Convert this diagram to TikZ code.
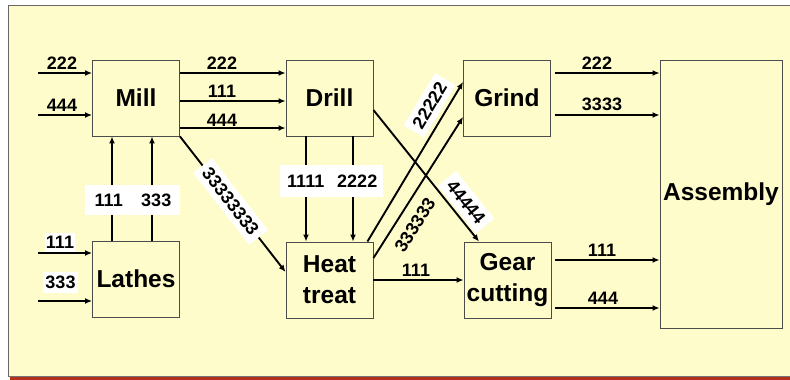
\documentclass[tikz,border=0pt]{standalone}
\usepackage{fontspec}
\setmainfont{Liberation Sans}
\usetikzlibrary{arrows.meta}
\definecolor{bgy}{HTML}{FFFCCB}
\definecolor{redbar}{HTML}{B3301C}
\begin{document}
\begin{tikzpicture}[x=1pt,y=-1pt,
  box/.style={draw=black!70, line width=0.9pt, fill=bgy, minimum width=87pt, minimum height=76pt, inner sep=0pt, align=center, font=\bfseries\fontsize{24.5}{31}\selectfont},
  arr/.style={line width=1.9pt, -{Latex[length=7pt,width=6pt]}},
  lbl/.style={font=\bfseries\fontsize{18}{20}\selectfont, inner sep=1pt},
  wlbl/.style={lbl, fill=white, inner sep=4pt},
  slbl/.style={lbl, fill=white, inner sep=5.5pt, sloped}]
\useasboundingbox (0,0) rectangle (790,380);
\fill[white] (0,0) rectangle (790,380);
\fill[bgy] (8,5) rectangle (790,376);
\draw[black!60, line width=1pt] (8,376) -- (8,5) -- (790,5);
\fill[redbar] (10,377) rectangle (790,380);
\draw[black!55, line width=1pt] (8,376) -- (790,376);

% boxes
\node[box] (mill) at (136,98) {Mill};
\node[box] (drill) at (329.5,98) {Drill};
\node[box] (grind) at (507,98) {Grind};
\node[box, minimum width=122pt, minimum height=268pt] (asm) at (721,194) {Assembly};
\node[box] (lathes) at (136,279) {Lathes};
\node[box] (heat) at (329.5,280) {Heat\\treat};
\node[box] (gear) at (507.5,280) {Gear\\cutting};

% free ends
\coordinate (i1) at (38,73);
\coordinate (i2) at (38,115);
\coordinate (i3) at (38,253);
\coordinate (i4) at (38,301);

% inputs to Mill
\draw[arr] (i1) -- (i1 -| mill.west);
\draw[arr] (i2) -- (i2 -| mill.west);
\node[lbl] (l1) at (62,63) {222};
\node[lbl] (l2) at (62,105) {444};

% inputs to Lathes
\draw[arr] (i3) -- (i3 -| lathes.west);
\draw[arr] (i4) -- (i4 -| lathes.west);
\node[wlbl, minimum width=30pt, minimum height=19pt, inner sep=0pt] (l3) at (60,242.5) {111};
\node[wlbl, minimum width=35pt, minimum height=21pt, inner sep=0pt] (l4) at (60.5,282.5) {333};

% Mill -> Drill
\draw[arr] ([yshift=25pt]mill.east) -- ([yshift=25pt]drill.west);
\draw[arr] ([yshift=-3pt]mill.east) -- ([yshift=-3pt]drill.west);
\draw[arr] ([yshift=-30pt]mill.east) -- ([yshift=-30pt]drill.west);
\node[lbl] (l5) at (222,63) {222};
\node[lbl] (l6) at (222,91) {111};
\node[lbl] (l7) at (222,120) {444};

% Lathes -> Mill
\draw[arr] ([xshift=-24pt]lathes.north) -- ([xshift=-24pt]mill.south);
\draw[arr] ([xshift=16pt]lathes.north) -- ([xshift=16pt]mill.south);
\node[wlbl, minimum width=47.5pt, minimum height=30pt, inner sep=0pt] (l8) at (108.75,200) {111};
\node[wlbl, minimum width=47.5pt, minimum height=30pt, inner sep=0pt] (l9) at (156.25,200) {333};

% Drill -> Heat treat
\draw[arr] ([xshift=-23.5pt]drill.south) -- ([xshift=-23.5pt]heat.north);
\draw[arr] ([xshift=23.5pt]drill.south) -- ([xshift=23.5pt]heat.north);
\node[wlbl, minimum width=51.5pt, minimum height=32pt, inner sep=0pt] (l10) at (305.75,181) {1111};
\node[wlbl, minimum width=51.5pt, minimum height=32pt, inner sep=0pt] (l11) at (357.25,181) {2222};

% Mill -> Heat treat
\draw[arr] (mill.south east) -- ([yshift=8pt]heat.west)
  node[slbl, pos=0.48] (l12) {33333333};

% Heat treat -> Grind
\draw[arr] ([yshift=22pt]heat.east) -- ([yshift=-19pt]grind.west)
  node[lbl, sloped, below=9pt, pos=0.3] (l13) {333333};
\draw[arr] ([xshift=-6pt]heat.north east) -- ([yshift=16pt]grind.west)
  node[slbl, above=4pt, pos=0.8] (l14) {22222};

% Drill -> Gear cutting
\draw[arr] ([yshift=-12pt]drill.east) -- ([xshift=-28.5pt]gear.north)
  node[slbl, above=2pt, pos=0.77] (l15) {44444};

% Heat treat -> Gear cutting
\draw[arr] (heat.east) -- (gear.west);
\node[lbl] (l16) at (416,270) {111};

% Grind -> Assembly
\coordinate (g1) at ([yshift=25pt,xshift=4pt]grind.east);
\coordinate (g2) at ([yshift=-17pt,xshift=4pt]grind.east);
\draw[arr] (g1) -- (g1 -| asm.west);
\draw[arr] (g2) -- (g2 -| asm.west);
\node[lbl] (l17) at (597,63) {222};
\node[lbl] (l18) at (602,104) {3333};

% Gear cutting -> Assembly
\coordinate (c1) at ([yshift=20pt,xshift=4pt]gear.east);
\coordinate (c2) at ([yshift=-28pt,xshift=4pt]gear.east);
\draw[arr] (c1) -- (c1 -| asm.west);
\draw[arr] (c2) -- (c2 -| asm.west);
\node[lbl] (l19) at (602,250) {111};
\node[lbl] (l20) at (603,298) {444};
\end{tikzpicture}
\end{document}
